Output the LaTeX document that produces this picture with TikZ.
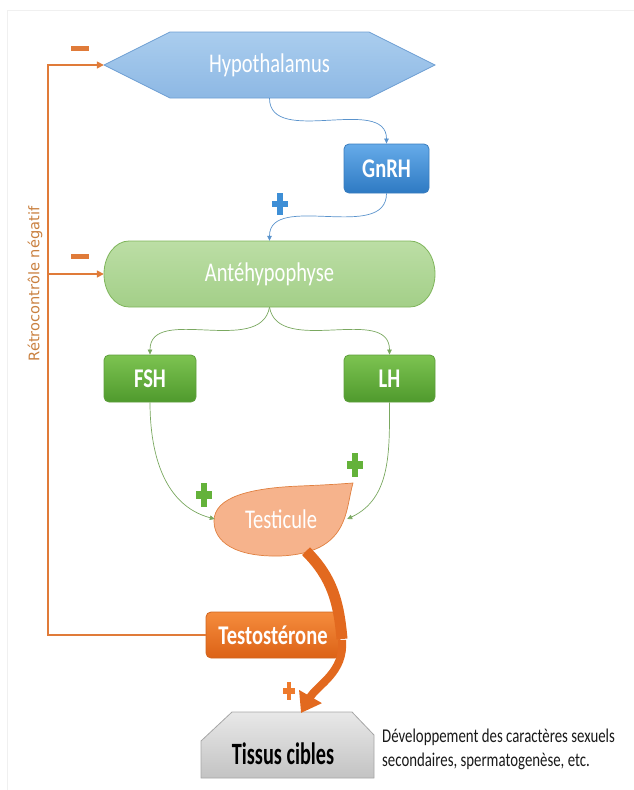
\documentclass[tikz,border=0pt]{standalone}
\usepackage{fontspec}
\setmainfont{Carlito}[FakeStretch=0.76]
\newfontfamily\retrofont{DejaVu Sans}
\usetikzlibrary{positioning,arrows.meta}
\definecolor{hypoTop}{HTML}{AACDEE}
\definecolor{hypoBot}{HTML}{8DB8E4}
\definecolor{hypoLine}{HTML}{6E9FD3}
\definecolor{gnrhTop}{HTML}{66ABE9}
\definecolor{gnrhBot}{HTML}{2E7AC3}
\definecolor{gnrhLine}{HTML}{3A7DBE}
\definecolor{anteTop}{HTML}{BCDEA5}
\definecolor{anteBot}{HTML}{A3CF88}
\definecolor{anteLine}{HTML}{7FB55B}
\definecolor{hormTop}{HTML}{7DC351}
\definecolor{hormBot}{HTML}{4F9A2D}
\definecolor{hormLine}{HTML}{5E9E3C}
\definecolor{testiFill}{HTML}{F6B38C}
\definecolor{testiLine}{HTML}{E08040}
\definecolor{testoTop}{HTML}{F58C3D}
\definecolor{testoBot}{HTML}{DC6216}
\definecolor{testoLine}{HTML}{D06520}
\definecolor{tissTop}{HTML}{E8E8E8}
\definecolor{tissBot}{HTML}{C3C3C3}
\definecolor{tissLine}{HTML}{A6A6A6}
\definecolor{arrowBlue}{HTML}{5A93CC}
\definecolor{arrowGreen}{HTML}{7AA860}
\definecolor{fbOrange}{HTML}{E07B39}
\definecolor{retroText}{HTML}{C9803F}
\definecolor{plusBlue}{HTML}{3E8FD6}
\definecolor{plusGreen}{HTML}{64B23A}
\definecolor{plusOrange}{HTML}{EE7A2C}
\definecolor{bigOrange}{HTML}{E2691F}

\begin{document}
\begin{tikzpicture}[x=1pt,y=1pt,
  lab/.style={inner sep=0pt,text=white,font=\fontsize{27}{30}\selectfont},
  hbox/.style={lab,rounded corners=5pt,font=\fontsize{27}{30}\selectfont\bfseries,
    minimum height=47pt,line width=0.8pt},
  thinBlue/.style={draw=arrowBlue,line width=0.7pt,-{Triangle[length=5pt,width=4.5pt]}},
  thinGreen/.style={draw=arrowGreen,line width=0.7pt,-{Triangle[length=5pt,width=4.5pt]}},
  fbArr/.style={draw=fbOrange,line width=1.6pt,-{Triangle[length=7pt,width=7pt]}},
  bigArr/.style={draw=bigOrange,line width=8pt}]
\useasboundingbox (0,0) rectangle (634,-790);
\draw[gray!12,line width=0.8pt] (7,-790) -- (7,-10) -- (634,-10);

% shapes
\path[draw=hypoLine,top color=hypoTop,bottom color=hypoBot,line width=0.8pt]
  (104,-65) -- (170,-32) -- (369,-32) -- (435,-65) -- (369,-98) -- (170,-98) -- cycle;
\path[draw=anteLine,top color=anteTop,bottom color=anteBot,line width=0.8pt]
  (129,-241) -- (410,-241) arc[start angle=90,end angle=-90,x radius=25,y radius=33]
  -- (129,-307) arc[start angle=270,end angle=90,x radius=25,y radius=33] -- cycle;
\path[draw=tissLine,top color=tissTop,bottom color=tissBot,line width=0.8pt]
  (232,-712) -- (352,-712) -- (374,-735) -- (374,-778) -- (201,-778) -- (201,-741) -- cycle;
\path[draw=testiLine,fill=testiFill,line width=0.7pt]
  (353,-483) .. controls (345,-510) and (350,-553) .. (280,-556)
  .. controls (235,-557) and (214,-542) .. (214,-521)
  .. controls (214,-497) and (250,-488) .. (300,-486)
  .. controls (325,-485) and (340,-484) .. (353,-483) -- cycle;

% nodes
\node[lab,minimum width=331pt,minimum height=66pt] (hypo) at (269.5,-65) {Hypothalamus};
\node[hbox,minimum width=85pt,minimum height=49pt,top color=gnrhTop,bottom color=gnrhBot,
  draw=gnrhLine] (gnrh) at (386.5,-168.5) {GnRH};
\node[lab,minimum width=331pt,minimum height=66pt] (ante) at (269.5,-274) {Antéhypophyse};
\node[hbox,minimum width=92pt,top color=hormTop,bottom color=hormBot,draw=hormLine]
  (fsh) at (150,-378.5) {FSH};
\node[hbox,minimum width=91pt,top color=hormTop,bottom color=hormBot,draw=hormLine]
  (lh) at (389.5,-378.5) {LH};
\node[lab,minimum width=132pt,minimum height=70pt] (testi) at (281,-519) {Testicule};
\node[hbox,minimum width=134pt,minimum height=46pt,top color=testoTop,bottom color=testoBot,
  draw=testoLine] (testo) at (273,-635) {Testostérone};
\node[lab,text=black,font=\fontsize{31}{33}\selectfont\bfseries] (tissus) at (283,-754)
  {\scalebox{0.86}[1]{Tissus cibles}};
\coordinate (tissTop) at (301,-713);
\coordinate (arcMid) at (342,-640);
\node[inner sep=0pt,anchor=west,align=left,font=\fontsize{19.5}{24}\selectfont,text=black!90]
  (effets) at (382,-749) {Développement des caractères sexuels\\secondaires, spermatogenèse, etc.};
\node[inner sep=0pt,rotate=90,text=retroText,font=\retrofont\fontsize{14.6}{16}\selectfont]
  (retro) at (35,-284) {Rétrocontrôle négatif};

% signs
\foreach \px/\py/\w/\h/\c in {280/204/16/22/plusBlue,204/495/16/24/plusGreen,
    355/465/16/24/plusGreen,289/691/12/18/plusOrange}{
  \fill[\c] (\px-\w/2,-\py-0.15*\h) rectangle (\px+\w/2,-\py+0.15*\h);
  \fill[\c] (\px-0.19*\w,-\py-\h/2) rectangle (\px+0.19*\w,-\py+\h/2);
}
\foreach \my in {48,256} \fill[fbOrange] (71,-\my-2.5) rectangle (89,-\my+2.5);

% connectors
\draw[thinBlue] (hypo.south) to[out=-90,in=90] (gnrh.north);
\draw[thinBlue] (gnrh.south) to[out=-90,in=90] (ante.north);
\draw[thinGreen] (ante.south) to[out=-100,in=90] (fsh.north);
\draw[thinGreen] (ante.south) to[out=-80,in=90] (lh.north);
\draw[thinGreen] (fsh.south) to[out=-90,in=165] (testi.west);
\draw[thinGreen] (lh.south) to[out=-90,in=25] (testi.east);
\draw[fbArr] (testo.west) -| ([xshift=-56pt]hypo.west) -- (hypo.west);
\draw[fbArr] ([xshift=-56pt]ante.west) -- (ante.west);
\draw[bigArr,line width=11pt] ([xshift=25pt,yshift=3pt]testi.south) to[out=-45,in=95] ([yshift=1pt]arcMid);
\draw[bigArr,-{Triangle[length=19pt,width=25pt]}] (arcMid) to[out=-85,in=60] (tissTop);
\end{tikzpicture}
\end{document}
